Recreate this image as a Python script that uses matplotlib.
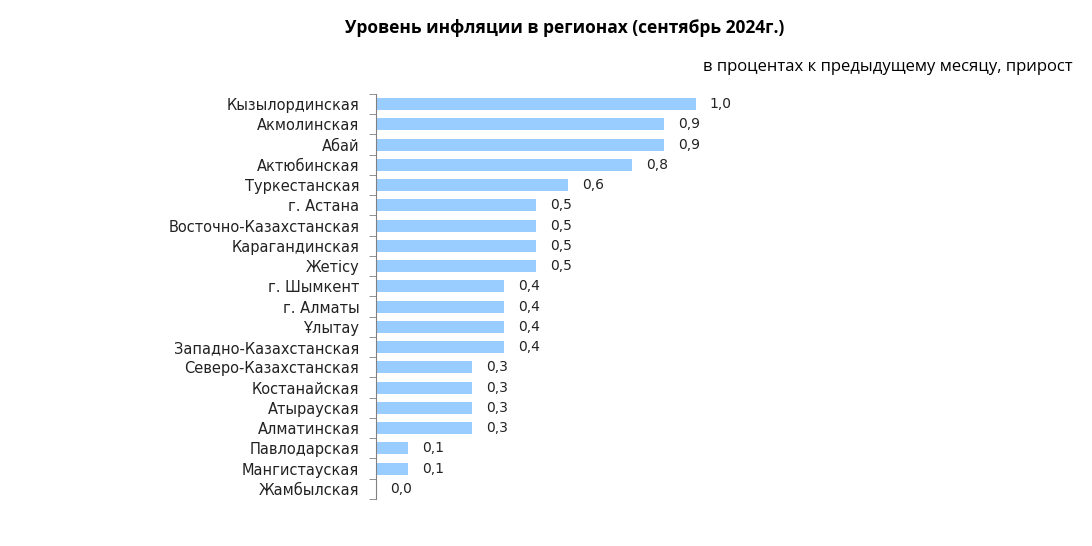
import numpy as np
import matplotlib.pyplot as plt
from matplotlib.ticker import FixedLocator

regions = ["Кызылординская", "Акмолинская", "Абай", "Актюбинская", "Туркестанская",
           "г. Астана", "Восточно-Казахстанская", "Карагандинская", "Жетісу",
           "г. Шымкент", "г. Алматы", "Ұлытау", "Западно-Казахстанская",
           "Северо-Казахстанская", "Костанайская", "Атырауская", "Алматинская",
           "Павлодарская", "Мангистауская", "Жамбылская"]
values = [1.0, 0.9, 0.9, 0.8, 0.6, 0.5, 0.5, 0.5, 0.5, 0.4, 0.4, 0.4, 0.4,
          0.3, 0.3, 0.3, 0.3, 0.1, 0.1, 0.0]

W, H = 1092, 546
fig = plt.figure(figsize=(W / 100, H / 100), dpi=100)
# axes in pixel coords: left 376, top 94, bottom 499
ax = fig.add_axes([376 / W, 1 - 499 / H, 384 / W, 405 / H])

y = np.arange(len(regions))
ax.barh(y, values, height=0.6, color="#99CCFF")
ax.set_xlim(0, 1.2)
ax.set_ylim(len(regions) - 0.5, -0.5)

for yi, v in zip(y, values):
    ax.annotate(f"{v:.1f}".replace(".", ","), (v, yi), xytext=(10, 0),
                textcoords="offset points", va="center", ha="left",
                fontsize=10, family="DejaVu Sans", color="#222222")

ax.set_yticks(y)
ax.set_yticklabels(regions, fontsize=10.5, family="DejaVu Sans", color="#222222")
ax.tick_params(axis="y", which="major", length=0, pad=12)
ax.yaxis.set_minor_locator(FixedLocator(np.arange(-0.5, len(regions), 1)))
ax.tick_params(axis="y", which="minor", length=5, color="#808080", direction="out")
ax.set_xticks([])
for s in ["top", "right", "bottom"]:
    ax.spines[s].set_visible(False)
ax.spines["left"].set_color("#808080")

fig.text(565 / W, 1 - 28 / H, "Уровень инфляции в регионах (сентябрь 2024г.)",
         ha="center", va="center", fontsize=12.5, fontweight="bold", family="Open Sans")
fig.text(1073 / W, 1 - 67 / H, "в процентах к предыдущему месяцу, прирост",
         ha="right", va="center", fontsize=12, family="Open Sans")

fig.savefig("out.png", dpi=100)
